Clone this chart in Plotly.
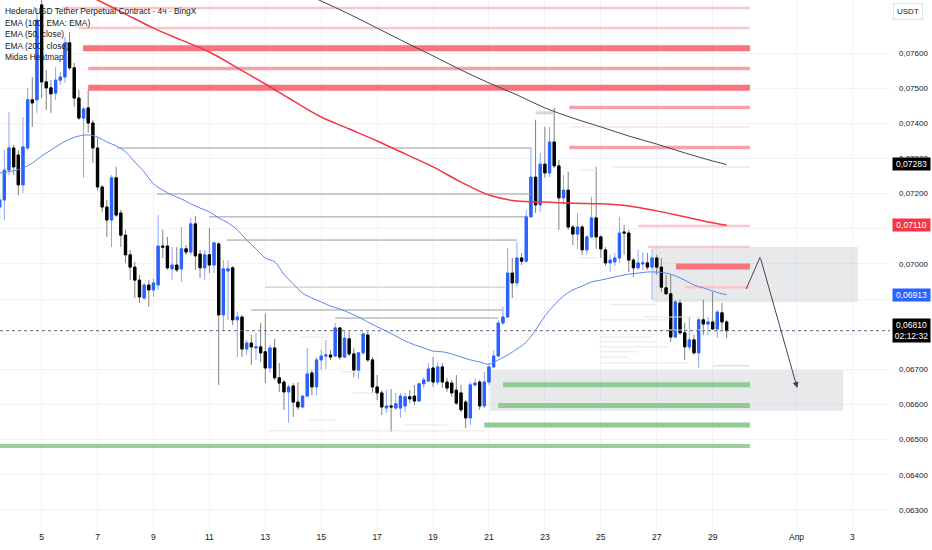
import plotly.graph_objects as go
import pandas as pd

# ---------------- data ----------------
START = "2023-03-03 12:00"   # first 4h bar
open_ = [0.07162,0.07182,0.07267,0.07330,0.07310,0.07225,0.07330,0.07467,0.07467,
 0.07737,0.07518,0.07501,0.07486,0.07523,0.07532,0.07629,0.07558,0.07472,0.07415,0.07444,0.07401,0.07330,0.07219,0.07162,0.07125,0.07245,0.07145,0.07082,0.07026,0.06991,0.06954,0.06903,0.06940,0.06926,
 0.06940,0.07051,0.07051,0.06986,0.06997,0.06986,0.07043,0.07034,0.07114,0.07028,0.06989,0.07026,0.06997,0.07057,0.06855,0.06980,0.06989,0.06841,0.06849,0.06758,0.06775,0.06761,0.06764,0.06750,0.06704,0.06761,0.06676,0.06664,0.06636,0.06653,0.06607,0.06593,0.06624,
 0.06690,0.06650,0.06727,0.06738,0.06741,0.06738,0.06818,0.06735,0.06787,0.06744,0.06698,0.06747,0.06798,0.06727,0.06650,0.06633,0.06590,0.06596,0.06590,0.06590,0.06596,0.06622,0.06624,0.06610,0.06659,0.06667,0.06704,0.06664,0.06707,0.06664,0.06661,0.06641,0.06633,0.06607,0.06562,0.06656,0.06664,0.06596,0.06664,0.06707,0.06738,0.06832,
 0.06849,0.06974,0.06946,0.07017,0.07008,0.07134,0.07247,0.07168,0.07284,0.07259,0.07347,0.07279,0.07188,0.07210,0.07105,0.07085,0.07105,0.07040,0.07077,0.07131,0.07077,0.07040,0.07003,0.07006,0.07017,0.07091,0.07088,0.07011,0.06989,0.07000,0.07003,0.06991,0.07017,0.06991,0.06932,0.06915,0.06792,0.06889,0.06804,0.06764,0.06784,0.06747,0.06841,0.06829,0.06835,0.06815,0.06861,0.06835]
high = [0.07196,0.07324,0.07432,0.07339,0.07324,0.07418,0.07501,0.07532,0.07728,
 0.07779,0.07552,0.07523,0.07560,0.07546,0.07646,0.07660,0.07572,0.07495,0.07447,0.07495,0.07410,0.07358,0.07225,0.07182,0.07253,0.07276,0.07154,0.07097,0.07040,0.07006,0.06969,0.06946,0.06954,0.06960,
 0.07139,0.07097,0.07077,0.07048,0.07048,0.07105,0.07054,0.07131,0.07136,0.07040,0.07040,0.07102,0.07062,0.07062,0.07011,0.07011,0.06994,0.06863,0.06855,0.06784,0.06798,0.06804,0.06832,0.06858,0.06770,0.06787,0.06718,0.06670,0.06656,0.06661,0.06664,0.06627,0.06761,
 0.06698,0.06735,0.06758,0.06784,0.06755,0.06832,0.06821,0.06809,0.06807,0.06761,0.06750,0.06804,0.06807,0.06735,0.06684,0.06641,0.06641,0.06644,0.06633,0.06633,0.06633,0.06641,0.06656,0.06661,0.06678,0.06718,0.06735,0.06721,0.06718,0.06676,0.06670,0.06684,0.06656,0.06613,0.06664,0.06676,0.06670,0.06693,0.06718,0.06755,0.06841,
 0.06878,0.07045,0.07017,0.07062,0.07031,0.07154,0.07330,0.07410,0.07316,0.07390,0.07390,0.07444,0.07296,0.07253,0.07262,0.07111,0.07145,0.07111,0.07082,0.07191,0.07276,0.07082,0.07048,0.07026,0.07031,0.07134,0.07111,0.07097,0.07017,0.07040,0.07034,0.07031,0.07043,0.07026,0.07017,0.06969,0.06969,0.06898,0.06898,0.06832,0.06849,0.06798,0.06846,0.06898,0.06849,0.06920,0.06869,0.06889,0.06841]
low = [0.07125,0.07125,0.07253,0.07253,0.07196,0.07202,0.07324,0.07390,0.07430,
 0.07472,0.07438,0.07430,0.07467,0.07509,0.07515,0.07552,0.07447,0.07410,0.07245,0.07373,0.07287,0.07210,0.07148,0.07077,0.07048,0.07134,0.07048,0.07003,0.06954,0.06903,0.06889,0.06898,0.06878,0.06906,
 0.06926,0.07017,0.06983,0.06954,0.06977,0.06949,0.07026,0.07026,0.06983,0.06960,0.06954,0.06974,0.06974,0.06656,0.06812,0.06841,0.06826,0.06735,0.06735,0.06741,0.06713,0.06727,0.06721,0.06661,0.06690,0.06670,0.06636,0.06585,0.06548,0.06565,0.06585,0.06590,0.06622,
 0.06627,0.06627,0.06698,0.06701,0.06727,0.06735,0.06727,0.06732,0.06738,0.06678,0.06673,0.06741,0.06721,0.06633,0.06613,0.06570,0.06576,0.06522,0.06585,0.06562,0.06579,0.06604,0.06599,0.06607,0.06647,0.06664,0.06650,0.06656,0.06647,0.06636,0.06622,0.06599,0.06579,0.06533,0.06542,0.06650,0.06585,0.06590,0.06656,0.06704,0.06735,
 0.06826,0.06846,0.06903,0.06934,0.06997,0.07003,0.07131,0.07145,0.07148,0.07245,0.07247,0.07273,0.07097,0.07168,0.07097,0.07054,0.07043,0.07026,0.07026,0.07074,0.07043,0.07017,0.06994,0.06977,0.06994,0.07003,0.07026,0.06977,0.06963,0.06983,0.06983,0.06983,0.06898,0.06969,0.06920,0.06912,0.06778,0.06789,0.06798,0.06727,0.06755,0.06741,0.06704,0.06798,0.06798,0.06812,0.06789,0.06812,0.06789]
close = [0.07182,0.07267,0.07330,0.07276,0.07225,0.07333,0.07467,0.07458,0.07694,
 0.07518,0.07501,0.07484,0.07523,0.07532,0.07629,0.07558,0.07472,0.07415,0.07441,0.07401,0.07330,0.07219,0.07162,0.07125,0.07245,0.07139,0.07082,0.07026,0.06991,0.06954,0.06906,0.06940,0.06926,0.06946,
 0.07051,0.07048,0.06989,0.06997,0.06983,0.07043,0.07034,0.07114,0.07023,0.06989,0.07026,0.06997,0.07060,0.06855,0.06986,0.06986,0.06841,0.06849,0.06758,0.06775,0.06764,0.06764,0.06747,0.06704,0.06761,0.06676,0.06661,0.06636,0.06650,0.06607,0.06593,0.06624,0.06687,
 0.06650,0.06727,0.06738,0.06741,0.06735,0.06818,0.06735,0.06789,0.06744,0.06698,0.06747,0.06801,0.06727,0.06650,0.06633,0.06593,0.06596,0.06593,0.06602,0.06624,0.06622,0.06616,0.06610,0.06659,0.06670,0.06701,0.06664,0.06707,0.06664,0.06647,0.06633,0.06604,0.06585,0.06562,0.06656,0.06661,0.06596,0.06664,0.06707,0.06738,0.06832,0.06849,
 0.06974,0.06946,0.07017,0.07008,0.07134,0.07247,0.07168,0.07284,0.07259,0.07347,0.07279,0.07188,0.07210,0.07105,0.07085,0.07105,0.07040,0.07077,0.07131,0.07077,0.07043,0.07003,0.07011,0.07017,0.07088,0.07088,0.07011,0.06989,0.07003,0.07003,0.06991,0.07017,0.06991,0.06934,0.06915,0.06792,0.06892,0.06804,0.06764,0.06784,0.06747,0.06841,0.06829,0.06835,0.06815,0.06863,0.06835,0.06810]

# moving averages, sampled at bar indices
ema50_bar = [0,3,5,7,9,11,13,15,17,19,21,23,25,27,29,31,33,35,37,39,41,43,45,47,49,51,53,55,57,59,61,63,65,67,69,71,73,75,77,79,81,83,85,87,89,91,93,95,97,99,101,103,105,107,109,111,113,115,117,119,121,123,125,127,129,131,133,135,137,139,141,143,145,147,149,151,153,155,156]
ema50 = [0.07259,0.07265,0.07273,0.07287,0.07307,0.07324,0.07341,0.07355,0.07364,0.07367,0.07361,0.07347,0.07336,0.07319,0.07290,0.07262,0.07228,0.07210,0.07196,0.07185,0.07171,0.07159,0.07148,0.07131,0.07117,0.07097,0.07068,0.07043,0.07017,0.07006,0.06971,0.06943,0.06917,0.06903,0.06892,0.06880,0.06872,0.06861,0.06849,0.06835,0.06821,0.06809,0.06795,0.06781,0.06770,0.06761,0.06752,0.06750,0.06744,0.06735,0.06727,0.06721,0.06715,0.06727,0.06741,0.06758,0.06778,0.06812,0.06852,0.06883,0.06909,0.06926,0.06937,0.06949,0.06954,0.06960,0.06966,0.06971,0.06974,0.06977,0.06977,0.06974,0.06966,0.06954,0.06940,0.06932,0.06923,0.06915,0.06913]
ema200_bar = [15,21,27,33,39,45,51,57,63,69,75,81,87,93,99,105,111,117,123,129,135,141,147,153,156]
ema200 = [0.07791,0.07751,0.07711,0.07671,0.07637,0.07603,0.07558,0.07512,0.07464,0.07418,0.07384,0.07350,0.07313,0.07276,0.07233,0.07196,0.07179,0.07176,0.07173,0.07171,0.07165,0.07151,0.07134,0.07117,0.07110]
ema100_bar = [63,69,75,81,87,93,99,105,111,117,123,129,135,141,147,153,156]
ema100 = [0.07785,0.07748,0.07711,0.07671,0.07631,0.07592,0.07552,0.07515,0.07481,0.07444,0.07415,0.07390,0.07364,0.07341,0.07316,0.07293,0.07283]

# Midas heatmap levels (strength: 0 faint .. 3 strong)
HEAT_END = "2023-03-30 08:00"
res_price = [0.07728,0.07671,0.07614,0.07556,0.07501,0.07445,0.07390,0.07331,0.07276,0.07108,0.07048,0.06993,0.06934]
res_start = ["2023-03-05 18:00","2023-03-06 08:00","2023-03-06 11:30","2023-03-06 16:00","2023-03-06 16:00",
             "2023-03-23 21:00","2023-03-23 21:00","2023-03-23 21:00","2023-03-25 09:30","2023-03-26 08:00",
             "2023-03-26 16:30","2023-03-27 16:30","2023-03-28 00:30"]
res_strength = [1,1,3,2,3,2,0,2,0,1,1,3,1]
sup_price = [0.06710,0.06656,0.06597,0.06542,0.06482]
sup_start = ["2023-03-29 00:30","2023-03-21 12:00","2023-03-21 08:00","2023-03-20 20:00","2023-03-02 00:00"]
sup_strength = [0,3,3,3,2]
vol_price = [0.07430,0.07330,0.07199,0.07134,0.07068,0.06934,0.06869,0.06846]
vol_start = ["2023-03-22 16:00","2023-03-07 16:48","2023-03-09 03:00","2023-03-10 23:40","2023-03-11 15:00",
             "2023-03-13 00:00","2023-03-12 12:00","2023-03-15 12:00"]
vol_end = ["2023-03-23 07:00","2023-03-22 12:00","2023-03-22 12:00","2023-03-22 07:00","2023-03-22 00:00",
           "2023-03-21 14:00","2023-03-21 12:00","2023-03-21 08:00"]
faint_price = [0.07267,0.07017,0.06884,0.06849,0.06841,0.06812,0.06792,0.06778,0.06764,0.06750,0.06735,0.06718,
               0.06792,0.06693,0.06633,0.06556,0.06542,0.06525]
faint_start = ["2023-03-24 04:24","2023-03-24 04:24","2023-03-25 08:00","2023-03-26 12:00","2023-03-24 23:00",
               "2023-03-26 12:00","2023-03-24 23:00","2023-03-24 23:00","2023-03-24 23:00","2023-03-24 23:00",
               "2023-03-24 23:00","2023-03-24 23:00","2023-03-14 05:36","2023-03-15 16:24","2023-03-16 03:00",
               "2023-03-14 14:00","2023-03-18 00:00","2023-03-13 02:24"]
faint_end = ["2023-03-24 20:48","2023-03-24 20:48","2023-03-27 00:00","2023-03-28 13:00","2023-03-27 11:00",
             "2023-03-28 22:00","2023-03-26 20:00","2023-03-27 00:00","2023-03-27 11:00","2023-03-26 08:00",
             "2023-03-26 00:00","2023-03-28 04:00","2023-03-15 07:36","2023-03-16 10:48","2023-03-16 22:00",
             "2023-03-15 13:00","2023-03-19 12:00","2023-03-20 20:24"]

# drawn zones and projection arrow
zone_x0 = ["2023-03-26 20:48","2023-03-21 00:48"]
zone_x1 = ["2023-04-03 04:48","2023-04-02 16:00"]
zone_lo = [0.06892,0.06582]
zone_hi = [0.07048,0.06698]
arrow_x = ["2023-03-30 04:48","2023-03-30 16:48","2023-04-01 00:36"]
arrow_y = [0.06929,0.07020,0.06647]

x_ticks = ["2023-03-05","2023-03-07","2023-03-09","2023-03-11","2023-03-13","2023-03-15","2023-03-17",
           "2023-03-19","2023-03-21","2023-03-23","2023-03-25","2023-03-27","2023-03-29","2023-04-01","2023-04-03"]
x_labels = ["5","7","9","11","13","15","17","19","21","23","25","27","29","Апр","3"]
y_ticks = [0.063,0.064,0.065,0.066,0.067,0.068,0.069,0.070,0.071,0.072,0.073,0.074,0.075,0.076]
# 0,06800 / 0,06900 / 0,07100 sit under the price-scale badges in the reference
y_labels = ["0,06300","0,06400","0,06500","0,06600","0,06700","","",
            "0,07000","","0,07200","0,07300","0,07400","0,07500","0,07600"]
X_RANGE = ["2023-03-03 12:17","2023-04-04 08:14"]
Y_RANGE = [0.06243,0.07751]
countdown = "02:12:32"
legend_lines = ["Hedera/USD Tether Perpetual Contract · 4ч · BingX", "EMA (100, EMA: EMA)",
                "EMA (50, close)", "EMA (200, close)", "Midas Heatmap"]

# ---------------- figure ----------------
FONT = "Liberation Sans, Arial, sans-serif"
dates = pd.date_range(START, periods=len(close), freq="4h")
fig = go.Figure()

def hline(x0, x1, y, color, width):
    fig.add_trace(go.Scatter(x=[x0, x1], y=[y, y], mode="lines",
                             line=dict(color=color, width=width),
                             hoverinfo="skip", showlegend=False))

for i, y in enumerate(faint_price):
    hline(faint_start[i], faint_end[i], y, "#e6e6e6", 1)
for i, y in enumerate(vol_price):
    if i == 0:
        hline(vol_start[i], vol_end[i], y, "#d6d6d6", 3)
    elif i == 5:
        hline(vol_start[i], vol_end[i], y, "#c4c4c4", 1)
    else:
        hline(vol_start[i], vol_end[i], y, "#9a9a9a", 1)

res_style = {0: ("#fde4e6", 1.5), 1: ("#fbc6ca", 2.5), 2: ("#f8a0a7", 3.5), 3: ("#f7737e", 6)}
for i, y in enumerate(res_price):
    c, w = res_style[res_strength[i]]
    hline(res_start[i], HEAT_END, y, c, w)
sup_style = {0: ("#cfe5e3", 1.5), 2: ("#98cf9a", 4), 3: ("#8fcb92", 5)}
for i, y in enumerate(sup_price):
    c, w = sup_style[sup_strength[i]]
    hline(sup_start[i], HEAT_END, y, c, w)

# current price dotted line
fig.add_trace(go.Scatter(x=X_RANGE, y=[close[-1], close[-1]], mode="lines",
                         line=dict(color="#5d606b", width=1, dash="dot"),
                         hoverinfo="skip", showlegend=False))

# candles: wicks then bodies
fig.add_trace(go.Candlestick(x=dates, open=open_, high=high, low=low, close=close,
                             increasing=dict(line=dict(color="#8ca6f7", width=1), fillcolor="#8ca6f7"),
                             decreasing=dict(line=dict(color="#808080", width=1), fillcolor="#808080"),
                             whiskerwidth=0, hoverinfo="skip", showlegend=False))
body_hi = [max(o, c) for o, c in zip(open_, close)]
body_lo = [min(o, c) for o, c in zip(open_, close)]
fig.add_trace(go.Candlestick(x=dates, open=open_, high=body_hi, low=body_lo, close=close,
                             increasing=dict(line=dict(color="#2962ff", width=1), fillcolor="#2962ff"),
                             decreasing=dict(line=dict(color="#000000", width=1), fillcolor="#000000"),
                             whiskerwidth=0, hoverinfo="skip", showlegend=False))

# moving averages
fig.add_trace(go.Scatter(x=[dates[i] for i in ema50_bar], y=ema50, mode="lines", line_shape="spline",
                         line=dict(color="#5b85f5", width=1), hoverinfo="skip", showlegend=False))
fig.add_trace(go.Scatter(x=[dates[i] for i in ema200_bar], y=ema200, mode="lines", line_shape="spline",
                         line=dict(color="#f23645", width=1.5), hoverinfo="skip", showlegend=False))
fig.add_trace(go.Scatter(x=[dates[i] for i in ema100_bar], y=ema100, mode="lines", line_shape="spline",
                         line=dict(color="#434651", width=1), hoverinfo="skip", showlegend=False))

# zones
for i in range(len(zone_x0)):
    fig.add_shape(type="rect", xref="x", yref="y", x0=zone_x0[i], x1=zone_x1[i],
                  y0=zone_lo[i], y1=zone_hi[i], fillcolor="rgba(120,123,134,0.17)",
                  line=dict(width=0), layer="between")

# projection arrow
fig.add_trace(go.Scatter(x=arrow_x[:2], y=arrow_y[:2], mode="lines",
                         line=dict(color="#434651", width=1), hoverinfo="skip", showlegend=False))
fig.add_annotation(x=arrow_x[2], y=arrow_y[2], ax=arrow_x[1], ay=arrow_y[1], xref="x", yref="y",
                   axref="x", ayref="y", showarrow=True, arrowhead=2, arrowsize=1.2,
                   arrowwidth=1, arrowcolor="#434651", text="")

# legend text
for i, t in enumerate(legend_lines):
    fig.add_annotation(x=0, y=1, xref="paper", yref="paper", xanchor="left", yanchor="top",
                       xshift=3, yshift=-4 - 11.6 * i, text=t, showarrow=False,
                       font=dict(family=FONT, size=8.4, color="#131722"))

# price scale labels
def fmt(v):
    return f"{v:.5f}".replace(".", ",")

def plabel(y, text, bg):
    fig.add_annotation(x=1, y=y, xref="paper", yref="y", xanchor="left", yanchor="middle",
                       xshift=2, text=text, showarrow=False, bgcolor=bg, borderpad=1,
                       width=35, align="center",
                       font=dict(family=FONT, size=8.5, color="#ffffff"))

plabel(ema100[-1], fmt(ema100[-1]), "#000000")
plabel(ema200[-1], fmt(ema200[-1]), "#f23645")
plabel(ema50[-1], fmt(ema50[-1]), "#2962ff")
plabel(close[-1], fmt(close[-1]) + "<br>" + countdown, "#000000")
fig.add_annotation(x=1, y=1, xref="paper", yref="paper", xanchor="left", yanchor="top",
                   xshift=3, yshift=-3, text="USDT", showarrow=False, bgcolor="#ffffff",
                   bordercolor="#e0e3eb", borderwidth=1, borderpad=3,
                   font=dict(family=FONT, size=8, color="#131722"))

fig.update_layout(
    width=932, height=550, margin=dict(l=0, r=42, t=0, b=20),
    paper_bgcolor="#ffffff", plot_bgcolor="#ffffff", showlegend=False,
    font=dict(family=FONT, size=8.5, color="#131722"),
    xaxis=dict(type="date", range=X_RANGE, tickvals=x_ticks, ticktext=x_labels,
               showgrid=True, gridcolor="#f0f3fa", gridwidth=1, zeroline=False,
               rangeslider=dict(visible=False), ticks="", showline=False,
               tickfont=dict(family=FONT, size=8.5, color="#131722")),
    yaxis=dict(side="right", range=Y_RANGE, tickvals=y_ticks, ticktext=y_labels,
               showgrid=True, gridcolor="#f0f3fa", gridwidth=1, zeroline=False,
               ticks="", showline=False, ticklabelstandoff=8,
               tickfont=dict(family=FONT, size=8, color="#131722")),
)

fig.write_html("out.html", config={"displayModeBar": False},
               post_script="document.body.style.margin='0';document.body.style.overflow='hidden';")
